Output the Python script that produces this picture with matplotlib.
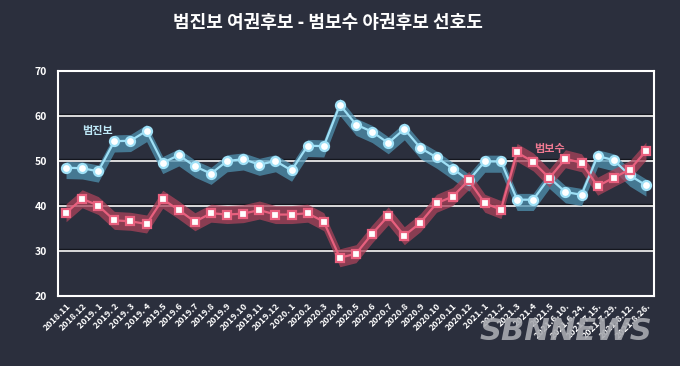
import matplotlib
matplotlib.use("Agg")
import matplotlib.pyplot as plt
import matplotlib.transforms as mtransforms
import numpy as np

plt.rcParams['font.family'] = ['Noto Sans CJK KR', 'DejaVu Sans']

categories = ["2018.11", "2018.12", "2019. 1", "2019. 2", "2019. 3", "2019. 4", "2019.5", "2019.6",
              "2019.7", "2019.8", "2019.9", "2019.10", "2019.11", "2019.12", "2020. 1", "2020.2",
              "2020.3", "2020.4", "2020.5", "2020.6", "2020.7", "2020.8", "2020.9", "2020.10",
              "2020.11", "2020.12", "2021. 1", "2021.2", "2021.3", "2021.4", "2021.5",
              "2021.6.10.", "2021.6.24.", "2021.7.15.", "2021.7.29.", "2021.8.12.", "2021.8.26."]

progressive = [48.5, 48.4, 47.7, 54.4, 54.5, 56.7, 49.6, 51.3, 48.8, 47.2, 50.0, 50.4, 49.2, 50.0,
               47.9, 53.4, 53.3, 62.5, 58.1, 56.5, 54.0, 57.1, 52.9, 50.8, 48.3, 45.7, 49.9, 49.9,
               41.4, 41.4, 46.3, 43.1, 42.5, 51.1, 50.2, 46.8, 44.6]

conservative = [38.5, 41.6, 40.1, 36.8, 36.6, 36.0, 41.5, 39.1, 36.5, 38.4, 38.1, 38.3, 39.1, 38.1,
                38.1, 38.4, 36.5, 28.5, 29.4, 33.8, 37.8, 33.4, 36.3, 40.6, 42.1, 45.7, 40.6, 39.2,
                51.9, 49.8, 46.2, 50.5, 49.6, 44.4, 46.3, 48.1, 52.2]

yticks = [20, 30, 40, 50, 60, 70]
title = "범진보 여권후보 - 범보수 야권후보 선호도"
label_prog = "범진보"
label_cons = "범보수"

BG = "#2b2f3d"
BLUE = "#9fe0f6"
BLUE_BAND = "#4f91b0"
RED = "#e8607e"
RED_BAND = "#a9435a"
# style: band extent above/below each line (in axis units)
BLUE_UP, BLUE_DOWN = 1.4, 2.4
RED_UP, RED_DOWN = 2.0, 2.0

fig = plt.figure(figsize=(6.8, 3.66), dpi=100, facecolor=BG)
ax = fig.add_axes([58/680, 1-296/366, (654-58)/680, (296-71)/366])
ax.set_facecolor(BG)

x = np.arange(len(categories))
p = np.array(progressive)
c = np.array(conservative)

# gridlines: white line with a dark shadow above
blend = mtransforms.blended_transform_factory(ax.transAxes, ax.transData)
shadow = blend + mtransforms.ScaledTranslation(0, 1.6 / 100, fig.dpi_scale_trans)
for yv in yticks[1:-1]:
    ax.plot([0, 1], [yv, yv], color="#14161e", lw=1.0, transform=shadow, zorder=1)
    ax.plot([0, 1], [yv, yv], color="#e8e8e8", lw=1.3, transform=blend, zorder=1)

# bands
ax.fill_between(x, p - BLUE_DOWN, p + BLUE_UP, color=BLUE_BAND, alpha=0.75, lw=0, zorder=2)
ax.fill_between(x, c - RED_DOWN, c + RED_UP, color=RED_BAND, alpha=0.75, lw=0, zorder=2)

# lines
ax.plot(x, p, color=BLUE, lw=1.6, marker='o', ms=6.5, mfc='white', mec=BLUE, mew=1.6, zorder=4)
ax.plot(x, c, color=RED, lw=1.6, marker='s', ms=6, mfc='white', mec=RED, mew=1.6, zorder=4)

ax.text(1.93, 56.7, label_prog, color="#bfe9f8", fontsize=8, fontweight='bold', ha='center', va='center', zorder=5)
ax.text(30.0, 52.7, label_cons, color="#f07a92", fontsize=8, fontweight='bold', ha='center', va='center', zorder=5)

ax.set_xlim(-0.5, 36.5)
ax.set_ylim(20, 70)
ax.set_yticks(yticks)
ax.set_yticklabels([str(v) for v in yticks], color='white', fontsize=7.5, fontweight='bold')
ax.set_xticks(x)
ax.set_xticklabels(categories, rotation=45, ha='right', rotation_mode='anchor',
                   color='white', fontsize=6.5, fontweight='bold')
ax.tick_params(axis='both', length=0, pad=4)
ax.tick_params(axis='y', pad=8)
for s in ax.spines.values():
    s.set_color('white')
    s.set_linewidth(1.5)

fig.text(328/680, 1-22/366, title, color='white', fontsize=13, fontweight='bold', ha='center', va='center')

fig.text(652/680, 1-331/366, "SBNNEWS", color="#a8aab0", fontsize=22, fontweight='bold',
         style='italic', ha='right', va='center', family=['DejaVu Sans'], alpha=0.9, zorder=10)

fig.savefig("out.png", dpi=100, facecolor=BG)
